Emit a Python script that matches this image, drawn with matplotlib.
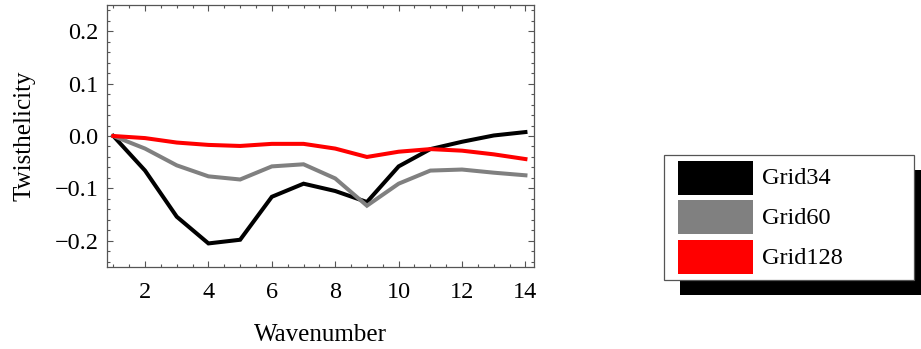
import matplotlib
matplotlib.use("Agg")
import matplotlib.pyplot as plt
from matplotlib.patches import Rectangle
from matplotlib.ticker import MultipleLocator

plt.rcParams['font.family'] = ['Liberation Serif', 'DejaVu Serif']

wavenumber = list(range(1, 15))
grid34 = [0.0, -0.066, -0.154, -0.205, -0.198, -0.116, -0.091, -0.105, -0.126,
          -0.058, -0.025, -0.011, 0.001, 0.0075]
grid60 = [0.0, -0.024, -0.056, -0.077, -0.083, -0.058, -0.054, -0.081, -0.133,
          -0.091, -0.066, -0.064, -0.070, -0.075]
grid128 = [0.0, -0.004, -0.0125, -0.017, -0.019, -0.015, -0.015, -0.024, -0.040,
           -0.030, -0.025, -0.028, -0.035, -0.044]
series_names = ['Grid34', 'Grid60', 'Grid128']
series_colors = ['#000000', '#808080', '#ff0000']
xticks = [2, 4, 6, 8, 10, 12, 14]
yticks = [-0.2, -0.1, 0.0, 0.1, 0.2]

W, H = 921, 349
fig = plt.figure(figsize=(W / 100, H / 100), dpi=100)

left, right, top, bottom = 107, 534, 5, 267
ax = fig.add_axes([left / W, (H - bottom) / H, (right - left) / W, (bottom - top) / H])

for vals, c in zip([grid34, grid60, grid128], series_colors):
    ax.plot(wavenumber, vals, color=c, lw=2.9, solid_joinstyle='miter')

ax.set_xlim(0.8, 14.27)
ax.set_ylim(-0.25, 0.25)
ax.set_xticks(xticks)
ax.set_yticks(yticks)
ax.set_yticklabels([f"{v:.1f}".replace('-', '\u2212') for v in yticks])
ax.xaxis.set_minor_locator(MultipleLocator(0.5))
ax.yaxis.set_minor_locator(MultipleLocator(0.02))
frame_col = '#555555'
for s in ax.spines.values():
    s.set_color(frame_col)
    s.set_linewidth(0.9)
ax.tick_params(which='both', direction='in', top=True, right=True, color=frame_col,
               labelsize=17.5, width=0.8)
ax.tick_params(which='major', length=4.5)
ax.tick_params(axis='x', which='major', pad=11)
ax.tick_params(axis='y', which='major', pad=6)
ax.tick_params(which='minor', length=2.3)
ax.set_xlabel('Wavenumber', fontsize=18, labelpad=15)
ax.set_ylabel('Twisthelicity', fontsize=18, labelpad=14)

# legend drawn in a pixel-coordinate overlay
lax = fig.add_axes([0, 0, 1, 1])
lax.set_xlim(0, W)
lax.set_ylim(H, 0)
lax.axis('off')
bx0, bx1, by0, by1 = 664, 914, 155, 280
lax.add_patch(Rectangle((bx0 + 16, by0 + 15), bx1 - bx0, by1 - by0, color='black', lw=0))
lax.add_patch(Rectangle((bx0, by0), bx1 - bx0, by1 - by0, facecolor='white',
                        edgecolor='#555555', lw=0.9))
sw_top = [161, 200, 240]
for name, c, t in zip(series_names, series_colors, sw_top):
    lax.add_patch(Rectangle((678, t), 75, 34, color=c, lw=0))
    lax.text(762, t + 18, name, fontsize=17.5, va='center', ha='left')

fig.savefig('out.png', dpi=100)
